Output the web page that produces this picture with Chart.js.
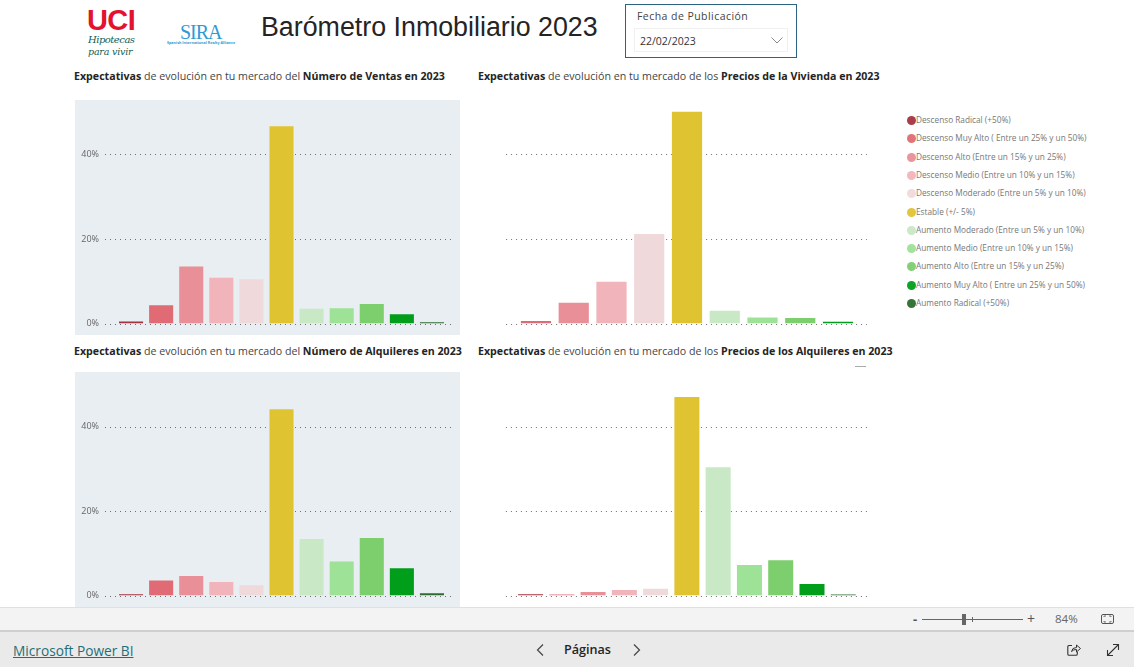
<!DOCTYPE html>
<html lang="es">
<head>
<meta charset="utf-8">
<title>Barómetro Inmobiliario 2023</title>
<script src="https://cdn.jsdelivr.net/npm/chart.js@4"></script>
<style>
  html, body { margin: 0; padding: 0; background: #fff; }
  body { position: relative; width: 1134px; height: 667px; overflow: hidden; font-family: "Open Sans", sans-serif; color: #333; }
  .abs { position: absolute; white-space: nowrap; }
  canvas { position: absolute; }
  .panel { position: absolute; left: 75px; width: 385px; height: 235px; background: #e9eef3; }
  .chart-title { position: absolute; white-space: nowrap; font-size: 10.65px; line-height: 14px; color: #444; }
  .chart-title b { color: #252423; }
  .legend-item { position: absolute; left: 907px; height: 12px; font-size: 8.25px; line-height: 12px; color: #777; white-space: nowrap; }
  .legend-item i { position: absolute; left: 0; top: 1.5px; width: 9px; height: 9px; border-radius: 50%; opacity: .95; }
  .legend-item span { position: absolute; left: 9px; top: 0; }
</style>
</head>
<body>

<!-- logos -->
<div class="abs" style="left:87px;top:3px;font:bold 29px/34px 'Liberation Sans',sans-serif;color:#e3122e;letter-spacing:-.6px">UCI</div>
<div class="abs" style="left:88px;top:33px;font:italic 10px/13px 'DejaVu Serif',serif;color:#0f5f57;letter-spacing:-.5px">Hipotecas</div>
<div class="abs" style="left:88px;top:45px;font:italic 9.5px/13px 'DejaVu Serif',serif;color:#0f5f57;letter-spacing:-.2px">para vivir</div>
<div class="abs" style="left:180px;top:21px;font:20px/22px 'Liberation Serif',serif;color:#2e9bd2;letter-spacing:-1px">SIRA</div>
<div class="abs" style="left:167px;top:40px;font:bold 3.7px/6px 'Open Sans',sans-serif;color:#2e9bd2">Spanish International Realty Alliance</div>

<div class="abs" style="left:261px;top:10px;font:26.8px/34px 'Liberation Sans',sans-serif;color:#252423">Barómetro Inmobiliario 2023</div>

<!-- date slicer -->
<div class="abs" style="left:625px;top:4px;width:170px;height:52px;border:1px solid #2a6482"></div>
<div class="abs" style="left:637px;top:9px;font-size:10.5px;line-height:15px;letter-spacing:.45px;color:#444">Fecha de Publicación</div>
<div class="abs" style="left:634px;top:28px;width:152px;height:22px;border:1px solid #f0f0f0"></div>
<div class="abs" style="left:640px;top:33px;font-size:10.5px;line-height:16px;color:#333">22/02/2023</div>
<svg class="abs" style="left:770px;top:36px" width="14" height="9"><path d="M1.5 1.5 L7 7 L12.5 1.5" fill="none" stroke="#888" stroke-width="1"/></svg>

<!-- chart panels -->
<div class="panel" style="top:100px"></div>
<div class="panel" style="top:372px"></div>

<div class="chart-title" style="left:74px;top:69px"><b>Expectativas</b> de evolución en tu mercado del <b>Número de Ventas en 2023</b></div>
<div class="chart-title" style="left:478px;top:69px"><b>Expectativas</b> de evolución en tu mercado de los <b>Precios de la Vivienda en 2023</b></div>
<div class="chart-title" style="left:74px;top:344px"><b>Expectativas</b> de evolución en tu mercado del <b>Número de Alquileres en 2023</b></div>
<div class="chart-title" style="left:478px;top:344px"><b>Expectativas</b> de evolución en tu mercado de los <b>Precios de los Alquileres en 2023</b></div>

<canvas id="chartVentas" width="385" height="235" style="left:75px;top:100px"></canvas>
<canvas id="chartPrecios" width="400" height="235" style="left:478px;top:100px"></canvas>
<canvas id="chartAlquileres" width="385" height="235" style="left:75px;top:372px"></canvas>
<canvas id="chartPreciosAlq" width="400" height="235" style="left:478px;top:372px"></canvas>

<div class="abs" style="left:855px;top:366px;width:11px;height:1px;background:#aaa"></div>

<div id="legend"></div>

<!-- status bar -->
<div class="abs" style="left:0;top:607px;width:1134px;height:22px;background:#f3f3f3;border-top:1px solid #e0e0e0"></div>
<div class="abs" style="left:913px;top:611px;font-size:13px;line-height:16px;font-weight:bold;color:#555">-</div>
<div class="abs" style="left:922px;top:619px;width:101px;height:1px;background:#666"></div>
<div class="abs" style="left:962px;top:614px;width:4px;height:11px;background:#666"></div>
<div class="abs" style="left:972px;top:617px;width:1px;height:5px;background:#666"></div>
<div class="abs" style="left:1027px;top:610px;font-size:14px;line-height:18px;color:#555">+</div>
<div class="abs" style="left:1055px;top:611px;font-size:11.5px;line-height:16px;color:#666">84%</div>
<svg class="abs" style="left:1100px;top:612px" width="16" height="14"><rect x="1.5" y="2.5" width="12" height="9" rx="1.5" fill="none" stroke="#555"/><path d="M4 5 V4 H6 M9 4 H11 V5 M11 9 V10 H9 M6 10 H4 V9" fill="none" stroke="#555" stroke-width=".8"/></svg>

<!-- nav bar -->
<div class="abs" style="left:0;top:630px;width:1134px;height:37px;background:#eaeaea;border-top:2px solid #cfcfcf;box-sizing:border-box"></div>
<div class="abs" style="left:13px;top:641px;font-size:13.7px;line-height:20px;color:#1f6f78;text-decoration:underline">Microsoft Power BI</div>
<svg class="abs" style="left:535px;top:643px" width="10" height="14"><path d="M8 1.5 L2.5 7 L8 12.5" fill="none" stroke="#444" stroke-width="1.2"/></svg>
<div class="abs" style="left:564px;top:641px;font-size:12.6px;line-height:18px;font-weight:600;color:#252423">Páginas</div>
<svg class="abs" style="left:632px;top:643px" width="10" height="14"><path d="M2 1.5 L7.5 7 L2 12.5" fill="none" stroke="#444" stroke-width="1.2"/></svg>
<svg class="abs" style="left:1066px;top:642px" width="16" height="16"><path d="M6 3.5 H3 Q1.8 3.5 1.8 4.8 V12 Q1.8 13.3 3 13.3 H10 Q11.3 13.3 11.3 12 V10" fill="none" stroke="#333" stroke-width="1.1"/><path d="M5.5 9.5 Q6 5.5 10.5 5.5 V3 L14.5 6.5 L10.5 10 V7.5 Q7.5 7.3 5.5 9.5 Z" fill="none" stroke="#333" stroke-width="1"/></svg>
<svg class="abs" style="left:1105px;top:642px" width="16" height="16"><path d="M3 13 L13 3 M8 2.5 H13.5 V8 M2.5 8 V13.5 H8" fill="none" stroke="#333" stroke-width="1.1"/></svg>

<script>
// Categories shown in the legend, in the order of the bars
const categories = [
  'Descenso Radical (+50%)',
  'Descenso Muy Alto ( Entre un 25% y un 50%)',
  'Descenso Alto (Entre un 15% y un 25%)',
  'Descenso Medio (Entre un 10% y un 15%)',
  'Descenso Moderado (Entre un 5% y un 10%)',
  'Estable (+/- 5%)',
  'Aumento Moderado (Entre un 5% y un 10%)',
  'Aumento Medio (Entre un 10% y un 15%)',
  'Aumento Alto (Entre un 15% y un 25%)',
  'Aumento Muy Alto ( Entre un 25% y un 50%)',
  'Aumento Radical (+50%)'
];
const colours = [
  '#a5333f', '#e06b74', '#e88f98', '#f1b4ba', '#f0d9db', '#e0c331',
  '#c8e8c6', '#9de297', '#7dce6d', '#009e1b', '#2b6e2e'
];
const legendRows = [120, 138, 157, 175, 193, 212, 230, 248, 266, 285, 303];

// Percent of answers
const ventasValues = [0.5, 4.3, 13.5, 10.8, 10.5, 46.7, 3.5, 3.6, 4.6, 2.2, 0.3];
const preciosValues = [0.6, 4.9, 9.9, 21.2, 50.1, 3.0, 1.4, 1.3, 0.4]; // no radical answers in this one
const alquileresValues = [0.3, 3.55, 4.6, 3.2, 2.4, 44.1, 13.4, 8.05, 13.65, 6.45, 0.55];
const preciosAlqValues = [0.3, 0.25, 0.8, 1.3, 1.6, 47, 30.4, 7.25, 8.35, 2.7, 0.25];

const yTicks = [0, 20, 40];
const yMax = 52;

// Build the legend on the right
const legendBox = document.getElementById('legend');
categories.forEach(function(name, i) {
  const row = document.createElement('div');
  row.className = 'legend-item';
  row.style.top = (legendRows[i] - 6) + 'px';
  row.innerHTML = '<i style="background:' + colours[i] + '"></i><span>' + name + '</span>';
  legendBox.appendChild(row);
});

// Dotted lines at each y tick. They run wider than the bars, which the normal grid can't do.
// The zero line sits on top of the bars, the others go behind.
function drawDots(chart, onlyZero) {
  const opts = chart.options.plugins.dotGrid;
  const yScale = chart.scales.y;
  const c = chart.ctx;
  c.save();
  c.strokeStyle = '#6f6f6f';
  c.lineWidth = 1;
  c.setLineDash([1, 4]);
  yScale.ticks.forEach(function(t) {
    if ((t.value === 0) !== onlyZero) return;
    const y = Math.round(yScale.getPixelForValue(t.value)) + 0.5;
    c.beginPath();
    c.moveTo(chart.chartArea.left - opts.left, y);
    c.lineTo(chart.chartArea.right + opts.right, y);
    c.stroke();
  });
  c.restore();
}
const dotGrid = {
  id: 'dotGrid',
  beforeDatasetsDraw: function(chart) { drawDots(chart, false); },
  afterDatasetsDraw: function(chart) { drawDots(chart, true); }
};

function makeChart(id, labels, values, barColours, layout) {
  return new Chart(document.getElementById(id), {
    type: 'bar',
    data: {
      labels: labels,
      datasets: [{
        data: values,
        backgroundColor: barColours,
        borderWidth: 0,
        barPercentage: 0.8,
        categoryPercentage: 1
      }]
    },
    plugins: [dotGrid],
    options: {
      responsive: false,
      animation: false,
      layout: { padding: { left: layout.left, right: layout.right, top: layout.top, bottom: layout.bottom } },
      plugins: {
        legend: { display: false },
        tooltip: { enabled: false },
        dotGrid: { left: layout.dotsLeft, right: layout.dotsRight }
      },
      scales: {
        x: { display: false },
        y: {
          min: 0,
          max: yMax,
          afterFit: function(scale) {
            scale.width = layout.axisWidth;
            scale.paddingTop = 0; // keep the plot height fixed, labels may overhang
            scale.paddingBottom = 0;
          },
          afterBuildTicks: function(scale) { scale.ticks = yTicks.map(function(v) { return { value: v }; }); },
          grid: { display: false, drawTicks: false },
          border: { display: false },
          ticks: {
            display: layout.showTicks,
            padding: 17,
            color: '#666',
            font: { family: 'Open Sans', size: 9 },
            callback: function(v) { return v + '%'; }
          }
        }
      }
    }
  });
}

makeChart('chartVentas', categories, ventasValues, colours,
  { left: 0, right: 13, top: 3.8, bottom: 11.5, axisWidth: 41, showTicks: true, dotsLeft: 11, dotsRight: 7 });
makeChart('chartPrecios', categories.slice(1, 10), preciosValues, colours.slice(1, 10),
  { left: 39.1, right: 21.1, top: 3.8, bottom: 11.5, axisWidth: 0, showTicks: false, dotsLeft: 11, dotsRight: 10 });
makeChart('chartAlquileres', categories, alquileresValues, colours,
  { left: 0, right: 13, top: 4, bottom: 11.5, axisWidth: 41, showTicks: true, dotsLeft: 11, dotsRight: 7 });
makeChart('chartPreciosAlq', categories, preciosAlqValues, colours,
  { left: 36.9, right: 19.1, top: 4, bottom: 11.5, axisWidth: 0, showTicks: false, dotsLeft: 9, dotsRight: 8 });
</script>
</body>
</html>
